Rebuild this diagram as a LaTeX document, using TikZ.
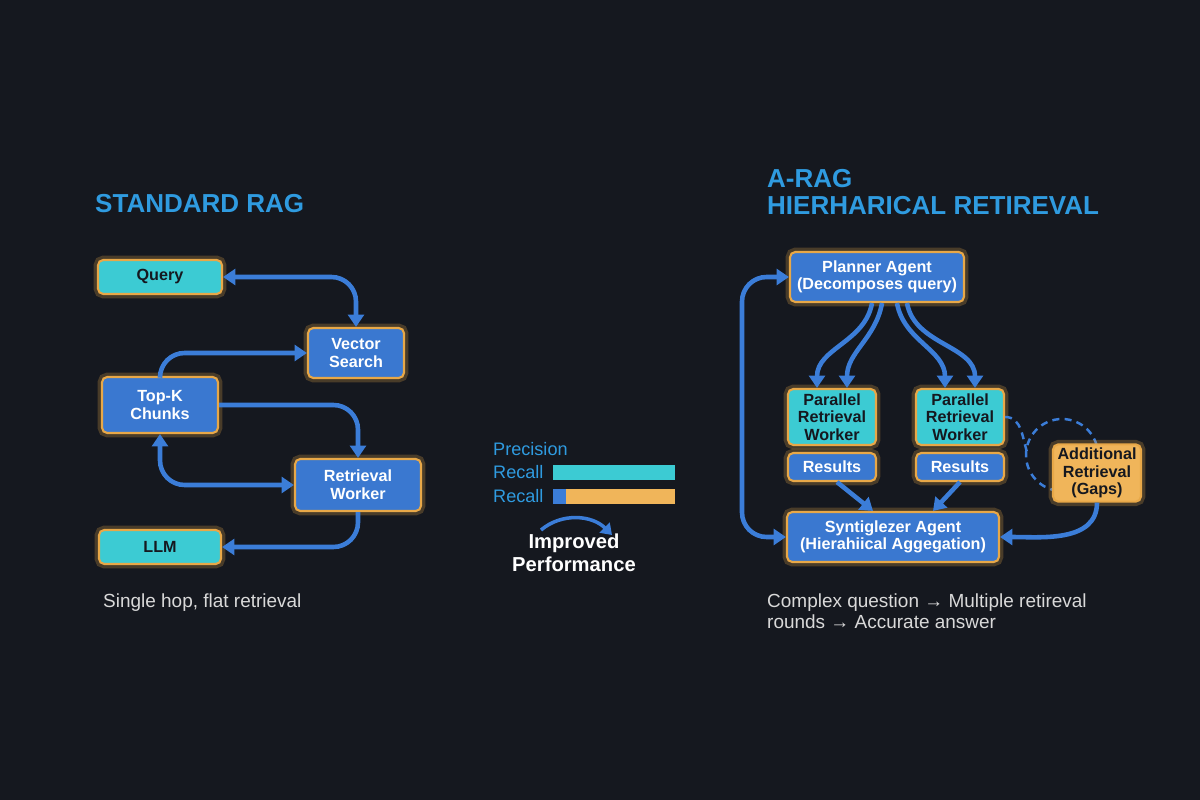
\documentclass[tikz,border=0pt]{standalone}
\usepackage{fontspec}
\setmainfont{Liberation Sans}
\usetikzlibrary{positioning, arrows.meta}
\definecolor{bg}{HTML}{15181F}
\definecolor{boxblue}{HTML}{3A78D0}
\definecolor{boxcyan}{HTML}{3CCBD3}
\definecolor{boxorange}{HTML}{F0B55A}
\definecolor{glow}{HTML}{E8A848}
\definecolor{arr}{HTML}{3B7DD8}
\definecolor{titleblue}{HTML}{2F9BE0}
\tikzset{
  box/.style={rectangle, rounded corners=3pt, draw=glow, line width=1.2pt, fill=boxblue,
    text=white, font=\fontsize{9.2}{10}\selectfont\bfseries, align=center, inner sep=2pt,
    preaction={draw=glow, line width=5pt, opacity=0.25}},
  cbox/.style={box, fill=boxcyan, text=bg},
  obox/.style={box, fill=boxorange, text=bg},
  flow/.style={draw=arr, line width=2.6pt, rounded corners=14pt, -{Triangle[length=7pt,width=9pt]}},
  both/.style={flow, {Triangle[length=7pt,width=9pt]}-{Triangle[length=7pt,width=9pt]}},
  title/.style={text=titleblue, font=\fontsize{14.8}{15.6}\selectfont\bfseries, anchor=west, align=left},
  caption/.style={text=white!85!black, font=\fontsize{10.8}{12}\selectfont, anchor=west, align=left},
}
\begin{document}
\begin{tikzpicture}[x=0.02cm, y=-0.02cm]
  \fill[bg] (0,0) rectangle (1200,800);
  \useasboundingbox (0,0) rectangle (1200,800);

  % Standard RAG
  \node[title] (lt) at (89,204) {STANDARD RAG};
  \node[cbox, minimum width=2.48cm, minimum height=0.68cm] (query) at (160,277) {Query};
  \node[box, minimum width=1.92cm, minimum height=1cm] (vec) at (356,353) {Vector\\Search};
  \node[box, minimum width=2.32cm, minimum height=1.12cm] (topk) at (160,405) {Top-K\\Chunks};
  \node[box, minimum width=2.52cm, minimum height=1.04cm] (rw) at (358,485) {Retrieval\\Worker};
  \node[cbox, minimum width=2.44cm, minimum height=0.68cm] (llm) at (160,547) {LLM};
  \node[caption] (lc) at (97,603) {Single hop, flat retrieval};

  % Edges
  \draw[both] (query.east) -- (query.east -| vec.north) -- (vec.north);
  \draw[flow] (topk.north) -- (topk.north |- vec.west) -- (vec.west);
  \draw[flow] (topk.east) -- (topk.east -| rw.north) -- (rw.north);
  \draw[both] (topk.south) |- (rw.west);
  \draw[flow] (rw.south) -- (rw.south |- llm.east) -- (llm.east);

  % Middle
  \node[text=titleblue, font=\fontsize{10.3}{11}\selectfont, anchor=west] (prec) at (487,449) {Precision};
  \node[text=titleblue, font=\fontsize{10.3}{11}\selectfont, anchor=west] (rec1) at (487,472) {Recall};
  \node[text=titleblue, font=\fontsize{10.3}{11}\selectfont, anchor=west] (rec2) at (487,496) {Recall};
  \fill[boxcyan] (553,465) rectangle (675,480);
  \fill[arr] (553,489) rectangle (566,504);
  \fill[boxorange] (566,489) rectangle (675,504);
  \node[text=white, font=\fontsize{11.5}{13}\selectfont\bfseries, align=center] (imp) at (574,553) {Improved\\Performance};
  \coordinate (ia) at (541,530);
  \coordinate (ib) at (612,535);
  \draw[draw=arr, line width=2pt, -{Triangle[length=6pt,width=8pt]}] (ia) to[out=40, in=135] (ib);

  % A-RAG
  \node[title] (rt) at (761,192) {A-RAG\\HIERHARICAL RETIREVAL};
  \coordinate (gap) at (1062,455);
  \draw[draw=arr, line width=1.4pt, dash pattern=on 4pt off 3pt] (gap) circle (36);
  \node[box, minimum width=3.48cm, minimum height=1cm] (plan) at (877,277) {Planner Agent\\(Decomposes query)};
  \node[cbox, minimum width=1.76cm, minimum height=1.12cm] (p1) at (832,417) {Parallel\\Retrieval\\Worker};
  \node[cbox, minimum width=1.76cm, minimum height=1.12cm] (p2) at (960,417) {Parallel\\Retrieval\\Worker};
  \node[box, minimum width=1.76cm, minimum height=0.56cm] (r1) at (832,467) {Results};
  \node[box, minimum width=1.76cm, minimum height=0.56cm] (r2) at (960,467) {Results};
  \node[obox, minimum width=1.76cm, minimum height=1cm] (add) at (1097,473) {Additional\\Retrieval\\(Gaps)};
  \node[box, minimum width=4.24cm, minimum height=1cm] (syn) at (893,537) {Syntiglezer Agent\\(Hierahiical Aggegation)};
  \node[caption] (rc) at (761,611) {Complex question → Multiple retireval\\rounds → Accurate answer};

  % Edges
  \coordinate (loop) at (742,400);
  \draw[both] (plan.west) -| (loop) |- (syn.west);
  \draw[flow] ([xshift=-0.1cm]plan.south) to[out=-100, in=90] ([xshift=-0.3cm]p1.north);
  \draw[flow] ([xshift=0.1cm]plan.south) to[out=-100, in=90] ([xshift=0.3cm]p1.north);
  \draw[flow] ([xshift=0.4cm]plan.south) to[out=-80, in=90] ([xshift=-0.3cm]p2.north);
  \draw[flow] ([xshift=0.6cm]plan.south) to[out=-80, in=90] ([xshift=0.3cm]p2.north);
  \draw[flow] ([xshift=0.1cm]r1.south) -- ([xshift=-0.4cm]syn.north);
  \draw[flow] (r2.south) -- ([xshift=0.8cm]syn.north);
  \draw[flow] (add.south) to[out=-90, in=0] (syn.east);
  \draw[draw=arr, line width=1.4pt, dash pattern=on 4pt off 3pt] (p2.east) to[out=0, in=110] ([xshift=-0.68cm]gap);
\end{tikzpicture}
\end{document}
